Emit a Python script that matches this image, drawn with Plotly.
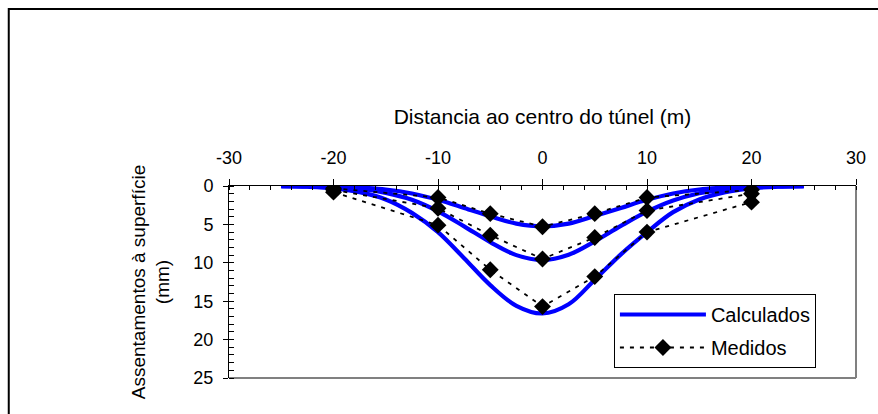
import plotly.graph_objects as go

# Calculated settlement curves
x_calc = [-25, -22.5, -20, -17.5, -15, -12.5, -10, -7.5, -5, -2.5, 0,
          2.5, 5, 7.5, 10, 12.5, 15, 17.5, 20, 22.5, 25]
calc_small = [0.01, 0.03, 0.08, 0.2, 0.46, 0.97, 1.8, 2.86, 3.95, 4.9, 5.25,
              4.9, 3.9, 2.85, 1.8, 0.97, 0.46, 0.2, 0.08, 0.03, 0.01]
calc_medium = [0.01, 0.04, 0.13, 0.36, 0.9, 1.8, 3.3, 5.25, 7.3, 9.0, 9.65,
               8.95, 7.2, 5.2, 3.35, 1.9, 0.95, 0.4, 0.15, 0.05, 0.01]
calc_large = [0.03, 0.1, 0.3, 0.8, 1.75, 3.5, 6.0, 9.4, 12.9, 15.6, 16.6,
              15.4, 12.2, 8.9, 6.0, 3.4, 1.75, 0.8, 0.3, 0.1, 0.03]

# Measured settlements
x_meas = [-20, -10, -5, 0, 5, 10, 20]
meas_small = [0.3, 1.5, 3.6, 5.3, 3.6, 1.5, 0.5]
meas_medium = [0.5, 2.9, 6.4, 9.5, 6.7, 3.2, 1.0]
meas_large = [0.8, 5.1, 10.9, 15.7, 11.8, 6.0, 2.1]

# Tick labels
x_tickvals = [-30, -20, -10, 0, 10, 20, 30]
x_ticktext = ["-30", "-20", "-10", "0", "10", "20", "30"]
y_tickvals = [0, 5, 10, 15, 20, 25]
y_ticktext = ["0", "5", "10", "15", "20", "25"]

FONT = "Liberation Sans, Arial, sans-serif"

fig = go.Figure()
for i, ys in enumerate([calc_small, calc_medium, calc_large]):
    fig.add_trace(go.Scatter(
        x=x_calc, y=ys, mode="lines", line=dict(color="#0000FF", width=4.2, shape="spline"),
        name="Calculados", legendgroup="calc", showlegend=(i == 0)))
for i, ys in enumerate([meas_small, meas_medium, meas_large]):
    fig.add_trace(go.Scatter(
        x=x_meas, y=ys, mode="lines+markers",
        line=dict(color="black", width=1.8, dash="4px,6px"),
        marker=dict(symbol="diamond", size=13, color="black"),
        name="Medidos", legendgroup="meas", showlegend=(i == 0)))

L, R, T, B = 229, 17, 186, 36
W, H = 878, 414
pw, ph = W - L - R, H - T - B

fig.update_layout(
    width=W, height=H,
    margin=dict(l=L, r=R, t=T, b=B),
    paper_bgcolor="white", plot_bgcolor="white",
    font=dict(family=FONT, size=18, color="black"),
    showlegend=True,
    legend=dict(x=(617 - L) / pw, y=(H - B - 294) / ph, xanchor="left", yanchor="top",
                bordercolor="black", borderwidth=1, bgcolor="white",
                font=dict(family=FONT, size=20), itemwidth=86, tracegroupgap=4),
    xaxis=dict(side="top", range=[-30, 30], tickvals=x_tickvals, ticktext=x_ticktext,
               showgrid=False, zeroline=False, showline=True, linecolor="black", linewidth=1,
               ticks="outside", ticklen=6, tickcolor="black", ticklabelstandoff=8,
               minor=dict(dtick=2, ticks="inside", ticklen=4, tickcolor="black"),
               title=dict(text="Distancia ao centro do túnel (m)", standoff=17,
                          font=dict(family=FONT, size=21, color="black"))),
    yaxis=dict(range=[25, 0], tickvals=y_tickvals, ticktext=y_ticktext,
               showgrid=False, zeroline=False, showline=True, linecolor="black", linewidth=1,
               ticks="outside", ticklen=5, tickcolor="black", ticklabelstandoff=6,
               minor=dict(dtick=1, ticks="inside", ticklen=5, tickcolor="black"),
               title=dict(text="Assentamentos à superfície<br>(mm)", standoff=18,
                          font=dict(family=FONT, size=19, color="black"))),
    shapes=[
        dict(type="line", xref="paper", yref="paper", x0=1, x1=1, y0=0, y1=1,
             line=dict(color="#808080", width=2), layer="below"),
        dict(type="line", xref="paper", yref="paper", x0=0, x1=1, y0=0, y1=0,
             line=dict(color="#808080", width=2), layer="below"),
        dict(type="rect", xref="paper", yref="paper",
             x0=(7 - L) / pw, x1=(W + 20 - L) / pw,
             y0=(H - B - (H + 20)) / ph, y1=(H - B - 9) / ph,
             line=dict(color="black", width=2), layer="below"),
    ],
)

fig.write_html("out.html")
